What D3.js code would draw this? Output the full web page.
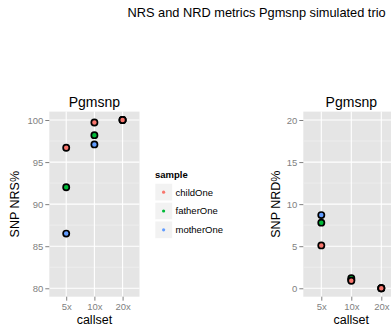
<!DOCTYPE html>
<meta charset="utf-8">
<head>
	<title>NRS and NRD metrics</title>
	<script type="text/javascript" src="https://cdn.jsdelivr.net/npm/d3@7"></script>
	<style>
		body { margin: 0; background: #fff; }
		svg text { font-family: "Liberation Sans", Arial, sans-serif; }
	</style>
</head>
<body>
<div id="chart"></div>
<script>
	// data
	var callsets = ["5x", "10x", "20x"];
	var samples = ["motherOne", "fatherOne", "childOne"];   // draw order, child on top
	var legendOrder = ["childOne", "fatherOne", "motherOne"];
	var sampleColours = {childOne: "#F8766D", fatherOne: "#00BA38", motherOne: "#619CFF"};

	var nrs = {
		childOne:  [96.7, 99.7, 100.0],
		fatherOne: [92.0, 98.2, 100.0],
		motherOne: [86.5, 97.1, 100.0]
	};
	var nrd = {
		childOne:  [5.1, 0.9, 0.0],
		fatherOne: [7.8, 1.2, 0.0],
		motherOne: [8.7, 1.0, 0.0]
	};
	var nrsTicks = [80, 85, 90, 95, 100];
	var nrdTicks = [0, 5, 10, 15, 20];

	var svg = d3.select("#chart").append("svg")
		.attr("width", 391)
		.attr("height", 329);

	svg.append("text")
		.attr("x", 127.5)
		.attr("y", 17)
		.attr("font-size", 12.8)
		.attr("fill", "#000")
		.text("NRS and NRD metrics Pgmsnp simulated trio");

	function panel(opts) {
		var x = d3.scalePoint().domain(callsets).range([opts.left, opts.right]).padding(0.6);
		var y = d3.scaleLinear().domain(opts.domain).range([296.7, 111.6]);
		var g = svg.append("g");

		g.append("rect")
			.attr("x", opts.left).attr("y", 111.6)
			.attr("width", opts.right - opts.left).attr("height", 296.7 - 111.6)
			.attr("fill", "#E5E5E5");

		var minor = opts.ticks.slice(0, -1).map(function(t, i) { return (t + opts.ticks[i + 1]) / 2; });
		g.selectAll(".minor").data(minor).enter().append("line")
			.attr("x1", opts.left).attr("x2", opts.right)
			.attr("y1", function(d) { return y(d); }).attr("y2", function(d) { return y(d); })
			.attr("stroke", "#F2F2F2").attr("stroke-width", 0.6);

		g.selectAll(".hmajor").data(opts.ticks).enter().append("line")
			.attr("x1", opts.left).attr("x2", opts.right)
			.attr("y1", function(d) { return y(d); }).attr("y2", function(d) { return y(d); })
			.attr("stroke", "#fff").attr("stroke-width", 1.1);

		g.selectAll(".vmajor").data(callsets).enter().append("line")
			.attr("y1", 111.6).attr("y2", 296.7)
			.attr("x1", function(d) { return x(d); }).attr("x2", function(d) { return x(d); })
			.attr("stroke", "#fff").attr("stroke-width", 1.1);

		// y axis
		var ya = g.append("g")
			.attr("transform", "translate(" + opts.left + ",0)")
			.call(d3.axisLeft(y).tickValues(opts.ticks).tickSize(4).tickPadding(2));
		ya.select(".domain").remove();
		ya.selectAll("line").attr("stroke", "#7F7F7F");
		ya.selectAll("text").attr("fill", "#7F7F7F").attr("font-size", 9.5);

		// x axis
		var xa = g.append("g")
			.attr("transform", "translate(0,296.7)")
			.call(d3.axisBottom(x).tickSize(4).tickPadding(3));
		xa.select(".domain").remove();
		xa.selectAll("line").attr("stroke", "#7F7F7F");
		xa.selectAll("text").attr("fill", "#7F7F7F").attr("font-size", 9.5);

		g.append("text")
			.attr("x", (opts.left + opts.right) / 2)
			.attr("y", 106.5)
			.attr("text-anchor", "middle")
			.attr("font-size", 14)
			.text("Pgmsnp");

		g.append("text")
			.attr("x", (opts.left + opts.right) / 2)
			.attr("y", 324)
			.attr("text-anchor", "middle")
			.attr("font-size", 12.5)
			.text("callset");

		g.append("text")
			.attr("transform", "translate(" + opts.ylabX + "," + ((111.6 + 296.7) / 2) + ") rotate(-90)")
			.attr("text-anchor", "middle")
			.attr("font-size", 12.5)
			.text(opts.ylab);

		samples.forEach(function(s) {
			g.selectAll(".pt-" + s).data(opts.values[s]).enter().append("circle")
				.attr("cx", function(d, i) { return x(callsets[i]); })
				.attr("cy", function(d) { return y(d); })
				.attr("r", 3.1)
				.attr("fill", sampleColours[s])
				.attr("stroke", "#000")
				.attr("stroke-width", 1.7);
		});
	}

	panel({left: 49.3, right: 139.5, domain: [79, 101], ticks: nrsTicks, values: nrs, ylab: "SNP NRS%", ylabX: 18.5});
	panel({left: 303.3, right: 399.3, domain: [-1, 21], ticks: nrdTicks, values: nrd, ylab: "SNP NRD%", ylabX: 279.5});

	// legend
	var legend = svg.append("g");
	legend.append("text")
		.attr("x", 155).attr("y", 177.5)
		.attr("font-size", 9.5).attr("font-weight", "bold")
		.text("sample");
	legend.selectAll(".key").data(legendOrder).enter().append("rect")
		.attr("x", 155).attr("y", function(d, i) { return 183.5 + i * 18.8; })
		.attr("width", 17.3).attr("height", 17.3)
		.attr("fill", "#F2F2F2")
		.attr("stroke", "#fff").attr("stroke-width", 0.6);
	legend.selectAll(".dot").data(legendOrder).enter().append("circle")
		.attr("cx", 163.6).attr("cy", function(d, i) { return 192.2 + i * 18.8; })
		.attr("r", 1.6)
		.attr("fill", function(d) { return sampleColours[d]; });
	legend.selectAll(".lab").data(legendOrder).enter().append("text")
		.attr("x", 175.5).attr("y", function(d, i) { return 195.6 + i * 18.8; })
		.attr("font-size", 9.5)
		.text(function(d) { return d; });
</script>
</body>
